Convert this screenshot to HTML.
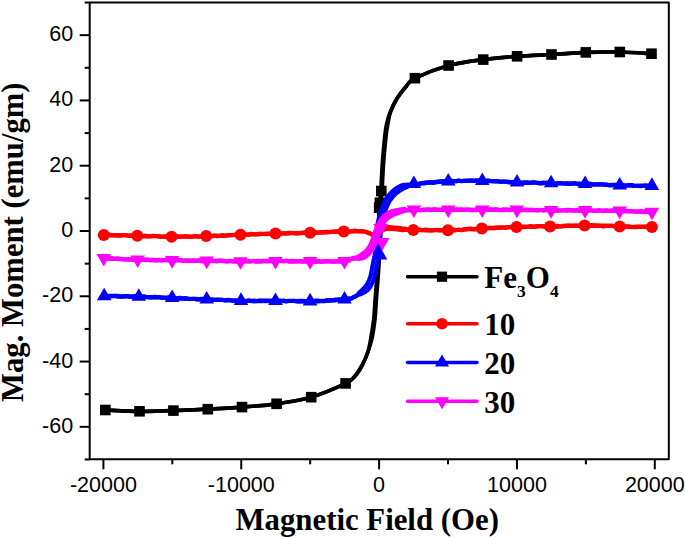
<!DOCTYPE html>
<html><head><meta charset="utf-8"><style>
html,body{margin:0;padding:0;background:#fff;overflow:hidden;width:685px;height:538px;}
svg{display:block;}
.tk{font-family:"Liberation Sans",sans-serif;font-size:21.5px;fill:#000;}
.ttl{font-family:"Liberation Serif",serif;font-weight:bold;font-size:31px;fill:#000;}
.lg{font-family:"Liberation Serif",serif;font-weight:bold;font-size:31px;fill:#000;}
.sub{font-size:17.5px;}
</style></head><body>
<svg width="685" height="538" viewBox="0 0 685 538">
<rect width="685" height="538" fill="#fff"/>
<path d="M105.3,410.0 C111.0,410.2 128.2,411.2 139.5,411.3 C150.8,411.4 162.0,411.0 173.4,410.6 C184.8,410.2 196.4,409.8 207.8,409.2 C219.2,408.6 230.5,408.0 242.0,407.1 C253.5,406.2 265.1,405.5 276.6,403.8 C288.1,402.1 299.7,400.6 311.2,397.2 C322.7,393.8 338.3,386.9 345.6,383.4 C352.9,379.9 352.1,379.3 354.9,376.2 C357.7,373.1 360.1,369.0 362.3,365.0 C364.5,361.0 366.4,356.7 367.9,352.0 C369.4,347.3 370.0,342.7 371.0,337.1 C372.0,331.5 373.1,324.7 373.8,318.5 C374.5,312.3 374.6,306.4 375.1,300.0 C375.6,293.5 376.2,286.6 376.7,280.0 C377.2,273.3 377.7,266.6 378.0,260.0 C378.3,253.3 378.5,246.3 378.6,240.0 C378.7,233.7 378.7,227.0 378.8,222.0 C378.9,217.0 378.8,213.6 379.0,210.0 C379.2,206.3 379.5,203.4 379.8,199.9 C380.1,196.4 380.5,195.0 380.9,189.0 C381.3,183.0 381.7,172.5 382.3,164.0 C382.9,155.5 383.9,144.6 384.6,137.9 C385.3,131.3 385.6,128.4 386.6,123.9 C387.6,119.4 389.0,115.2 390.7,111.0 C392.4,106.7 394.4,102.7 397.0,98.5 C399.6,94.3 403.5,89.4 406.5,86.0 C409.5,82.6 407.9,81.6 414.9,78.2 C421.9,74.8 437.2,68.6 448.6,65.5 C460.0,62.4 471.8,61.1 483.2,59.6 C494.6,58.1 505.7,57.1 517.1,56.3 C528.5,55.4 540.0,55.1 551.5,54.5 C563.0,53.9 574.4,52.8 585.8,52.4 C597.2,52.0 608.8,51.8 619.8,52.0 C630.8,52.2 646.2,53.4 651.5,53.7" fill="none" stroke="#000" stroke-width="3.7" stroke-linejoin="round" stroke-linecap="round"/>
<path d="M105.3,410.0 C111.0,410.2 128.2,411.2 139.5,411.3 C150.8,411.4 162.0,411.0 173.4,410.6 C184.8,410.2 196.4,409.8 207.8,409.2 C219.2,408.6 230.5,408.0 242.0,407.1 C253.5,406.2 265.1,405.5 276.6,403.8 C288.1,402.1 299.7,400.6 311.2,397.2 C322.7,393.8 338.3,386.9 345.6,383.4 C352.9,379.9 352.1,379.3 354.9,376.2 C357.7,373.1 360.1,369.0 362.3,365.0 C364.5,361.0 366.3,356.6 367.9,352.0 C369.5,347.4 371.0,342.9 372.2,337.3 C373.4,331.8 374.3,324.9 375.0,318.7 C375.7,312.5 375.8,306.5 376.3,300.0 C376.8,293.6 377.4,286.7 377.9,280.0 C378.4,273.4 378.9,266.7 379.2,260.0 C379.5,253.4 379.7,246.3 379.8,240.0 C379.9,233.7 379.9,227.0 380.0,222.0 C380.1,217.0 380.0,213.7 380.2,210.0 C380.4,206.4 380.7,203.6 381.0,200.1 C381.3,196.6 381.7,195.0 382.1,189.0 C382.5,183.0 382.9,172.5 383.5,164.0 C384.1,155.5 385.1,144.7 385.8,138.1 C386.5,131.4 386.9,128.6 387.8,124.1 C388.6,119.6 389.4,115.3 390.9,111.0 C392.5,106.8 394.4,102.7 397.0,98.5 C399.6,94.3 403.5,89.4 406.5,86.0 C409.5,82.6 407.9,81.6 414.9,78.2 C421.9,74.8 437.2,68.6 448.6,65.5 C460.0,62.4 471.8,61.1 483.2,59.6 C494.6,58.1 505.7,57.1 517.1,56.3 C528.5,55.4 540.0,55.1 551.5,54.5 C563.0,53.9 574.4,52.8 585.8,52.4 C597.2,52.0 608.8,51.8 619.8,52.0 C630.8,52.2 646.2,53.4 651.5,53.7" fill="none" stroke="#000" stroke-width="3.7" stroke-linejoin="round" stroke-linecap="round"/>
<rect x="100.0" y="404.7" width="10.6" height="10.6" fill="#000"/>
<rect x="134.2" y="406.0" width="10.6" height="10.6" fill="#000"/>
<rect x="168.1" y="405.3" width="10.6" height="10.6" fill="#000"/>
<rect x="202.5" y="403.9" width="10.6" height="10.6" fill="#000"/>
<rect x="236.7" y="401.8" width="10.6" height="10.6" fill="#000"/>
<rect x="271.3" y="398.5" width="10.6" height="10.6" fill="#000"/>
<rect x="305.9" y="391.9" width="10.6" height="10.6" fill="#000"/>
<rect x="340.3" y="378.1" width="10.6" height="10.6" fill="#000"/>
<rect x="373.9" y="202.4" width="10.6" height="10.6" fill="#000"/>
<rect x="374.6" y="197.5" width="10.6" height="10.6" fill="#000"/>
<rect x="376.0" y="185.7" width="10.6" height="10.6" fill="#000"/>
<rect x="409.6" y="72.9" width="10.6" height="10.6" fill="#000"/>
<rect x="443.3" y="60.2" width="10.6" height="10.6" fill="#000"/>
<rect x="477.9" y="54.3" width="10.6" height="10.6" fill="#000"/>
<rect x="511.8" y="51.0" width="10.6" height="10.6" fill="#000"/>
<rect x="546.2" y="49.2" width="10.6" height="10.6" fill="#000"/>
<rect x="580.5" y="47.1" width="10.6" height="10.6" fill="#000"/>
<rect x="614.5" y="46.7" width="10.6" height="10.6" fill="#000"/>
<rect x="646.2" y="48.4" width="10.6" height="10.6" fill="#000"/>
<path d="M103.8,234.7 L105.3,235.3 L107.1,235.3 L109.2,234.9 L111.6,235.1 L114.2,235.2 L117.0,235.4 L119.9,235.6 L122.8,235.0 L125.8,235.0 L128.8,235.8 L131.8,235.5 L134.6,235.9 L137.3,235.3 L139.9,235.7 L142.5,236.1 L145.2,235.7 L147.8,236.5 L150.4,236.5 L153.1,235.9 L155.7,236.0 L158.3,236.5 L161.0,237.0 L163.6,236.6 L166.3,236.5 L168.9,236.7 L171.6,236.4 L174.3,236.6 L176.9,236.7 L179.6,236.8 L182.2,236.5 L184.9,236.5 L187.6,236.4 L190.2,236.5 L192.9,236.3 L195.6,236.0 L198.2,236.7 L200.9,236.3 L203.5,236.3 L206.2,235.8 L208.8,236.5 L211.5,236.2 L214.1,235.5 L216.8,235.6 L219.4,235.8 L222.0,235.7 L224.6,235.8 L227.3,235.2 L229.9,235.4 L232.5,235.2 L235.2,234.7 L237.8,234.9 L240.5,235.0 L243.0,234.9 L245.5,234.5 L248.0,234.5 L250.5,233.9 L253.0,234.0 L255.5,234.5 L258.0,234.0 L260.5,233.7 L263.0,234.0 L265.5,234.1 L268.0,234.0 L270.5,233.6 L273.0,233.6 L275.5,233.6 L278.2,233.8 L280.9,233.5 L283.5,233.3 L286.2,233.3 L288.9,232.8 L291.5,232.8 L294.2,233.3 L296.9,233.5 L299.5,233.1 L302.2,232.8 L304.8,232.6 L307.5,232.8 L310.1,233.1 L312.8,232.9 L315.5,232.5 L318.3,232.7 L321.2,232.1 L324.0,232.2 L326.9,232.5 L329.6,232.0 L332.3,231.8 L334.9,231.5 L337.4,231.7 L339.7,232.0 L341.9,231.0 L343.8,231.7 L347.9,231.5 L351.0,231.5 L353.4,231.2 L355.5,231.3 L357.6,231.0 L361.0,231.2 L363.8,231.5 L366.4,232.0 L370.0,233.5 L373.0,234.7 L376.7,234.4 L378.5,232.3 L380.5,229.9 L383.2,228.2 L386.5,227.2 L389.2,227.1 L392.1,227.3 L395.1,227.6 L397.7,227.9 L400.3,228.2 L403.1,228.5 L404.9,228.5 L406.5,229.6 L409.0,229.7 L413.3,229.6 L415.2,230.0 L417.3,230.0 L419.6,230.0 L422.2,230.0 L424.9,230.3 L427.7,230.4 L430.6,230.4 L433.5,230.3 L436.5,229.9 L439.5,230.1 L442.4,230.1 L445.2,230.4 L447.9,230.6 L450.5,230.5 L453.1,230.4 L455.8,230.3 L458.4,229.7 L461.0,230.1 L463.5,229.8 L466.1,229.1 L468.7,228.9 L471.3,228.7 L473.9,229.3 L476.5,228.7 L479.2,228.4 L481.8,228.7 L484.4,228.3 L487.1,228.0 L489.8,227.9 L492.5,228.1 L495.1,227.6 L497.8,227.6 L500.5,227.9 L503.2,227.5 L505.9,227.3 L508.6,227.3 L511.2,226.8 L513.9,227.0 L516.5,226.9 L519.1,226.6 L521.7,226.5 L524.3,227.2 L526.9,226.8 L529.4,226.4 L532.0,226.8 L534.5,226.9 L537.1,226.2 L539.7,226.1 L542.2,226.2 L544.8,226.7 L547.4,226.1 L550.0,226.6 L552.6,226.5 L555.3,226.3 L557.9,225.9 L560.5,226.5 L563.2,226.3 L565.9,225.9 L568.5,225.6 L571.2,225.9 L573.9,225.6 L576.6,225.7 L579.2,225.4 L581.9,225.6 L584.6,225.1 L587.1,225.3 L589.6,226.0 L592.1,225.9 L594.7,225.5 L597.2,226.0 L599.8,225.6 L602.3,226.3 L604.8,226.2 L607.4,226.0 L609.9,225.9 L612.4,225.8 L614.8,226.6 L617.3,225.9 L619.7,226.7 L622.6,226.9 L625.6,226.6 L628.7,226.3 L631.8,227.0 L635.0,227.1 L638.0,226.9 L640.9,226.8 L643.7,226.7 L646.2,226.8 L648.4,226.7 L650.4,227.1 L651.9,226.9" fill="none" stroke="#f00" stroke-width="4.2" stroke-linejoin="round" stroke-linecap="round"/>
<path d="M103.8,235.4 L105.3,235.4 L107.1,234.7 L109.2,234.7 L111.6,235.5 L114.2,235.4 L117.0,235.4 L119.9,235.1 L122.8,235.5 L125.8,235.5 L128.8,235.6 L131.8,235.3 L134.6,235.6 L137.3,235.6 L139.9,236.0 L142.5,236.3 L145.2,236.4 L147.8,236.1 L150.4,236.1 L153.1,236.1 L155.7,236.0 L158.3,236.1 L161.0,236.5 L163.6,236.5 L166.3,236.6 L168.9,237.1 L171.6,236.8 L174.3,236.9 L176.9,236.6 L179.6,236.3 L182.2,236.6 L184.9,236.4 L187.6,236.6 L190.2,237.0 L192.9,236.7 L195.6,236.1 L198.2,236.7 L200.9,236.5 L203.5,236.4 L206.2,236.5 L208.8,236.3 L211.5,236.2 L214.1,235.7 L216.8,236.1 L219.4,236.0 L222.0,235.2 L224.6,235.6 L227.3,235.4 L229.9,235.1 L232.5,235.0 L235.2,234.9 L237.8,235.2 L240.5,234.7 L243.0,234.9 L245.5,234.4 L248.0,234.8 L250.5,234.7 L253.0,234.2 L255.5,234.3 L258.0,234.5 L260.5,234.2 L263.0,234.0 L265.5,233.6 L268.0,233.7 L270.5,233.9 L273.0,233.4 L275.5,234.0 L278.2,233.3 L280.9,233.8 L283.5,233.2 L286.2,233.7 L288.9,233.4 L291.5,233.2 L294.2,233.1 L296.9,233.2 L299.5,233.1 L302.2,232.8 L304.8,232.6 L307.5,232.8 L310.1,233.1 L312.8,232.7 L315.5,232.1 L318.3,232.7 L321.2,232.5 L324.0,232.6 L326.9,231.8 L329.6,232.2 L332.3,231.5 L334.9,231.9 L337.4,231.4 L339.7,231.3 L341.9,231.8 L343.8,231.0 L347.9,231.3 L351.0,231.4 L353.4,230.8 L355.5,230.7 L357.6,231.3 L361.0,231.2 L363.8,231.5 L366.4,232.0 L370.0,233.6 L373.0,235.1 L377.3,235.6 L379.3,233.5 L381.5,231.1 L383.8,229.7 L386.7,228.8 L389.2,228.7 L392.1,228.9 L394.9,229.2 L397.5,229.5 L400.1,229.8 L402.9,230.3 L404.8,229.7 L406.5,229.9 L408.9,229.6 L413.3,230.1 L415.2,229.5 L417.3,230.4 L419.6,229.6 L422.2,230.3 L424.9,229.7 L427.7,229.9 L430.6,230.5 L433.5,230.0 L436.5,230.0 L439.5,230.5 L442.4,230.2 L445.2,229.9 L447.9,230.7 L450.5,229.9 L453.1,229.7 L455.8,229.9 L458.4,230.0 L461.0,230.0 L463.5,229.3 L466.1,229.4 L468.7,228.9 L471.3,229.1 L473.9,229.3 L476.5,229.1 L479.2,229.1 L481.8,228.8 L484.4,228.8 L487.1,228.5 L489.8,228.2 L492.5,227.8 L495.1,228.1 L497.8,227.6 L500.5,227.3 L503.2,227.5 L505.9,227.8 L508.6,227.0 L511.2,227.3 L513.9,227.0 L516.5,227.0 L519.1,226.6 L521.7,227.3 L524.3,226.6 L526.9,226.8 L529.4,226.6 L532.0,226.2 L534.5,226.7 L537.1,226.3 L539.7,226.2 L542.2,226.1 L544.8,226.2 L547.4,226.1 L550.0,226.5 L552.6,226.3 L555.3,226.7 L557.9,226.6 L560.5,226.5 L563.2,225.8 L565.9,225.9 L568.5,225.6 L571.2,225.8 L573.9,225.8 L576.6,225.9 L579.2,225.7 L581.9,225.3 L584.6,225.4 L587.1,225.5 L589.6,225.1 L592.1,225.2 L594.7,225.6 L597.2,225.4 L599.8,226.0 L602.3,225.6 L604.8,225.6 L607.4,225.7 L609.9,225.9 L612.4,225.9 L614.8,226.3 L617.3,226.3 L619.7,226.2 L622.6,226.6 L625.6,226.3 L628.7,227.0 L631.8,227.1 L635.0,226.9 L638.0,226.7 L640.9,226.8 L643.7,226.9 L646.2,226.5 L648.4,226.9 L650.4,227.0 L651.9,226.7" fill="none" stroke="#f00" stroke-width="4.2" stroke-linejoin="round" stroke-linecap="round"/>
<circle cx="103.8" cy="235.0" r="6.0" fill="#f00"/>
<circle cx="137.3" cy="235.7" r="6.0" fill="#f00"/>
<circle cx="171.6" cy="236.8" r="6.0" fill="#f00"/>
<circle cx="206.2" cy="236.1" r="6.0" fill="#f00"/>
<circle cx="240.5" cy="234.7" r="6.0" fill="#f00"/>
<circle cx="275.5" cy="233.6" r="6.0" fill="#f00"/>
<circle cx="310.1" cy="232.7" r="6.0" fill="#f00"/>
<circle cx="343.8" cy="231.4" r="6.0" fill="#f00"/>
<circle cx="413.3" cy="229.9" r="6.0" fill="#f00"/>
<circle cx="447.9" cy="230.3" r="6.0" fill="#f00"/>
<circle cx="481.8" cy="228.6" r="6.0" fill="#f00"/>
<circle cx="516.5" cy="227.0" r="6.0" fill="#f00"/>
<circle cx="550.0" cy="226.4" r="6.0" fill="#f00"/>
<circle cx="584.6" cy="225.5" r="6.0" fill="#f00"/>
<circle cx="619.7" cy="226.4" r="6.0" fill="#f00"/>
<circle cx="651.9" cy="227.0" r="6.0" fill="#f00"/>
<path d="M104.2,295.9 L105.7,296.2 L107.6,296.0 L109.8,296.3 L112.3,296.3 L115.0,295.8 L117.9,295.8 L120.9,296.6 L124.0,296.1 L127.1,296.1 L130.2,296.9 L133.2,296.4 L136.1,296.8 L138.8,296.6 L141.4,296.8 L144.0,296.4 L146.5,297.0 L149.1,297.3 L151.6,297.1 L154.2,297.4 L156.7,297.4 L159.3,297.0 L161.8,297.7 L164.4,297.7 L166.9,297.5 L169.5,297.4 L172.1,298.2 L174.7,298.0 L177.4,298.3 L180.0,298.6 L182.7,298.5 L185.3,298.9 L188.0,298.5 L190.7,299.0 L193.4,298.8 L196.0,299.3 L198.7,299.4 L201.4,298.8 L204.0,299.0 L206.7,299.1 L209.3,299.9 L212.0,299.6 L214.6,299.9 L217.3,299.7 L219.9,300.0 L222.5,300.0 L225.2,300.1 L227.8,300.4 L230.4,300.5 L233.1,300.8 L235.7,300.7 L238.4,301.0 L241.0,301.0 L243.6,301.2 L246.3,300.9 L248.9,300.5 L251.6,301.2 L254.3,301.3 L256.9,301.2 L259.6,300.9 L262.2,301.1 L264.9,300.6 L267.5,301.2 L270.2,300.9 L272.8,300.7 L275.5,300.5 L278.2,301.2 L280.8,301.4 L283.5,300.6 L286.1,301.3 L288.8,301.0 L291.5,300.8 L294.1,301.0 L296.8,301.5 L299.5,301.6 L302.1,300.9 L304.8,301.4 L307.4,300.8 L310.1,301.4 L312.8,301.0 L315.7,301.4 L318.6,301.4 L321.5,300.8 L324.5,301.1 L327.5,300.3 L330.4,300.0 L333.1,300.3 L335.8,299.6 L338.3,299.6 L340.6,299.6 L342.7,299.6 L344.5,299.1 L349.4,298.5 L351.4,298.7 L353.2,297.3 L355.4,296.5 L357.4,294.8 L359.3,292.6 L362.1,290.1 L364.6,287.6 L366.3,285.4 L367.7,283.1 L369.1,280.0 L370.4,276.4 L371.0,273.9 L371.5,271.3 L372.0,268.6 L372.5,266.0 L373.0,263.3 L373.5,260.6 L374.1,258.0 L374.6,255.3 L375.0,252.7 L375.4,250.1 L375.7,247.6 L376.0,244.8 L376.2,241.7 L376.3,238.3 L376.5,234.9 L376.7,232.3 L376.9,229.7 L377.2,227.2 L377.5,224.7 L378.1,221.5 L378.8,218.5 L379.6,215.5 L380.5,212.3 L381.6,209.2 L382.8,206.2 L384.0,203.3 L385.3,200.5 L386.8,197.9 L388.5,195.6 L390.4,193.4 L392.2,191.6 L394.7,189.4 L397.1,187.6 L399.7,186.3 L402.2,185.3 L404.6,184.8 L407.3,184.7 L408.7,184.6 L413.9,184.2 L415.6,184.1 L417.7,184.2 L419.9,183.6 L422.4,183.3 L425.1,183.3 L427.9,182.6 L430.9,182.4 L433.8,182.8 L436.8,182.1 L439.8,181.9 L442.8,181.2 L445.6,181.4 L448.3,181.4 L450.9,180.8 L453.5,181.2 L456.2,181.1 L458.8,180.5 L461.4,181.0 L464.0,180.8 L466.6,181.0 L469.2,180.7 L471.8,181.0 L474.4,181.0 L477.0,180.4 L479.7,180.5 L482.3,181.1 L484.9,181.4 L487.6,180.8 L490.3,181.1 L492.9,181.3 L495.6,181.2 L498.3,181.4 L501.0,181.5 L503.7,181.7 L506.3,182.0 L509.0,181.9 L511.7,182.1 L514.3,182.6 L517.0,182.0 L519.6,182.5 L522.3,182.8 L524.9,182.4 L527.5,182.4 L530.2,183.0 L532.8,182.5 L535.4,182.5 L538.0,182.8 L540.6,183.1 L543.2,182.6 L545.9,182.8 L548.5,182.9 L551.1,183.4 L553.7,183.1 L556.3,183.5 L558.9,183.0 L561.5,183.2 L564.2,183.5 L566.8,183.8 L569.4,183.4 L572.0,183.3 L574.6,183.3 L577.2,183.7 L579.8,183.5 L582.5,184.1 L585.1,184.2 L587.7,183.7 L590.4,183.9 L593.1,184.5 L595.8,184.4 L598.5,184.7 L601.2,184.4 L603.9,184.4 L606.5,184.6 L609.2,185.2 L611.9,184.8 L614.5,185.0 L617.1,185.1 L619.7,185.2 L622.6,185.3 L625.6,185.8 L628.7,185.2 L631.8,185.1 L634.9,186.0 L638.0,185.9 L640.9,186.1 L643.6,185.6 L646.2,186.1 L648.4,186.1 L650.4,185.4 L651.9,185.9" fill="none" stroke="#00f" stroke-width="4.2" stroke-linejoin="round" stroke-linecap="round"/>
<path d="M104.2,295.9 L105.7,295.8 L107.6,296.0 L109.8,295.9 L112.3,295.8 L115.0,296.1 L117.9,296.6 L120.9,296.6 L124.0,296.6 L127.1,296.1 L130.2,296.5 L133.2,296.3 L136.1,296.2 L138.8,296.2 L141.4,296.4 L144.0,297.1 L146.5,297.1 L149.1,297.2 L151.6,297.3 L154.2,296.9 L156.7,297.1 L159.3,297.5 L161.8,297.7 L164.4,297.9 L166.9,298.0 L169.5,297.4 L172.1,298.0 L174.7,298.2 L177.4,298.1 L180.0,297.9 L182.7,298.3 L185.3,298.1 L188.0,299.0 L190.7,299.0 L193.4,298.9 L196.0,298.8 L198.7,299.4 L201.4,299.2 L204.0,299.6 L206.7,299.7 L209.3,299.5 L212.0,299.5 L214.6,299.8 L217.3,299.8 L219.9,299.7 L222.5,299.9 L225.2,300.5 L227.8,299.9 L230.4,300.0 L233.1,300.6 L235.7,300.4 L238.4,300.7 L241.0,300.7 L243.6,300.6 L246.3,301.2 L248.9,300.5 L251.6,300.8 L254.3,300.6 L256.9,301.0 L259.6,300.7 L262.2,300.7 L264.9,301.1 L267.5,300.7 L270.2,300.9 L272.8,301.2 L275.5,300.5 L278.2,300.5 L280.8,300.7 L283.5,301.2 L286.1,301.2 L288.8,300.9 L291.5,301.0 L294.1,300.9 L296.8,301.2 L299.5,300.8 L302.1,301.4 L304.8,301.6 L307.4,301.7 L310.1,301.4 L312.8,301.5 L315.7,300.6 L318.6,300.7 L321.5,301.2 L324.5,300.9 L327.5,300.4 L330.4,300.8 L333.1,300.3 L335.8,300.3 L338.3,299.7 L340.6,299.4 L342.7,299.5 L344.5,299.1 L349.4,298.7 L351.4,298.7 L353.2,297.3 L355.7,296.1 L358.0,295.0 L360.3,294.3 L362.8,293.1 L365.3,291.9 L367.4,290.4 L369.6,287.9 L371.3,284.9 L372.4,282.6 L373.4,280.2 L374.2,277.6 L374.9,274.9 L375.4,272.1 L376.0,269.4 L376.5,266.7 L377.0,264.0 L377.5,261.4 L378.0,258.7 L378.5,256.0 L379.0,253.3 L379.4,250.7 L379.7,248.0 L380.0,245.2 L380.1,242.8 L380.2,240.3 L380.3,237.7 L380.5,235.1 L380.8,231.8 L381.1,228.5 L381.5,225.3 L382.0,222.3 L382.7,219.4 L383.4,216.5 L384.3,213.6 L385.3,210.6 L386.4,207.8 L387.6,205.0 L388.8,202.5 L390.2,200.1 L392.6,197.0 L395.0,194.4 L397.2,192.5 L399.3,191.0 L403.6,188.4 L407.7,186.7 L408.9,185.3 L413.9,184.0 L415.6,183.7 L417.6,184.2 L419.9,183.5 L422.4,183.0 L425.1,182.6 L427.9,182.4 L430.8,182.2 L433.8,182.4 L436.8,181.7 L439.8,181.4 L442.7,181.6 L445.6,181.2 L448.3,181.7 L450.9,180.8 L453.5,181.1 L456.2,181.2 L458.8,180.8 L461.4,181.3 L464.0,180.8 L466.6,180.6 L469.2,180.7 L471.8,180.4 L474.4,180.7 L477.0,180.6 L479.7,181.2 L482.3,181.2 L484.9,181.0 L487.6,180.6 L490.3,180.9 L492.9,181.0 L495.6,181.1 L498.3,181.3 L501.0,182.0 L503.7,181.5 L506.3,181.5 L509.0,182.5 L511.7,182.3 L514.3,182.7 L517.0,182.3 L519.6,182.8 L522.3,182.7 L524.9,182.9 L527.5,182.9 L530.2,182.7 L532.8,182.4 L535.4,182.6 L538.0,183.2 L540.6,183.3 L543.2,183.3 L545.9,182.8 L548.5,183.2 L551.1,183.4 L553.7,183.3 L556.3,183.5 L558.9,183.3 L561.5,183.5 L564.2,183.5 L566.8,183.2 L569.4,183.9 L572.0,184.0 L574.6,183.2 L577.2,184.1 L579.8,184.2 L582.5,184.0 L585.1,183.5 L587.7,184.3 L590.4,183.8 L593.1,184.6 L595.8,184.5 L598.5,184.0 L601.2,184.3 L603.9,184.8 L606.5,184.9 L609.2,185.1 L611.9,185.4 L614.5,184.9 L617.1,184.8 L619.7,185.7 L622.6,184.9 L625.6,185.8 L628.7,185.1 L631.8,185.8 L634.9,185.8 L638.0,185.9 L640.9,185.7 L643.6,186.0 L646.2,185.4 L648.4,185.8 L650.4,185.5 L651.9,186.1" fill="none" stroke="#00f" stroke-width="4.2" stroke-linejoin="round" stroke-linecap="round"/>
<path d="M104.2,287.7 L111.5,300.3 L96.9,300.3Z" fill="#00f"/>
<path d="M138.8,288.2 L146.1,300.8 L131.5,300.8Z" fill="#00f"/>
<path d="M172.1,289.5 L179.4,302.1 L164.8,302.1Z" fill="#00f"/>
<path d="M206.7,291.0 L214.0,303.6 L199.4,303.6Z" fill="#00f"/>
<path d="M241.0,292.3 L248.3,304.9 L233.7,304.9Z" fill="#00f"/>
<path d="M275.5,292.5 L282.8,305.1 L268.2,305.1Z" fill="#00f"/>
<path d="M310.1,292.8 L317.4,305.4 L302.8,305.4Z" fill="#00f"/>
<path d="M344.5,291.0 L351.8,303.6 L337.2,303.6Z" fill="#00f"/>
<path d="M380.0,246.8 L387.3,259.4 L372.7,259.4Z" fill="#00f"/>
<path d="M413.9,175.5 L421.2,188.1 L406.6,188.1Z" fill="#00f"/>
<path d="M448.3,172.9 L455.6,185.5 L441.0,185.5Z" fill="#00f"/>
<path d="M482.3,172.5 L489.6,185.1 L475.0,185.1Z" fill="#00f"/>
<path d="M517.0,174.0 L524.3,186.6 L509.7,186.6Z" fill="#00f"/>
<path d="M551.1,174.7 L558.4,187.3 L543.8,187.3Z" fill="#00f"/>
<path d="M585.1,175.5 L592.4,188.1 L577.8,188.1Z" fill="#00f"/>
<path d="M619.7,176.9 L627.0,189.5 L612.4,189.5Z" fill="#00f"/>
<path d="M651.9,177.3 L659.2,189.9 L644.6,189.9Z" fill="#00f"/>
<path d="M103.8,258.2 L105.3,258.4 L107.1,258.5 L109.3,258.8 L111.7,258.7 L114.3,259.0 L117.1,258.4 L120.1,258.9 L123.1,259.5 L126.1,259.4 L129.1,259.7 L132.1,259.1 L135.0,259.6 L137.7,259.5 L140.3,259.8 L143.0,259.9 L145.6,259.5 L148.2,259.7 L150.9,259.8 L153.5,260.4 L156.2,260.3 L158.8,259.8 L161.5,260.4 L164.1,259.9 L166.8,260.3 L169.4,259.9 L172.1,259.9 L174.8,260.7 L177.4,260.1 L180.1,260.2 L182.8,260.9 L185.4,260.8 L188.1,260.3 L190.8,261.0 L193.4,260.6 L196.1,260.8 L198.8,260.4 L201.4,261.1 L204.1,260.9 L206.7,261.2 L209.3,261.2 L211.9,260.7 L214.5,260.8 L217.1,260.7 L219.7,260.7 L222.3,260.7 L224.9,261.0 L227.4,261.3 L230.0,260.8 L232.6,261.5 L235.2,261.2 L237.9,261.2 L240.5,261.7 L243.0,261.4 L245.4,261.2 L247.9,261.4 L250.4,261.5 L252.9,260.9 L255.4,261.7 L257.9,260.8 L260.5,261.5 L263.0,261.5 L265.5,260.7 L268.0,261.4 L270.5,261.0 L273.0,261.2 L275.5,260.7 L278.2,260.7 L280.8,260.8 L283.5,261.5 L286.2,260.9 L288.8,261.4 L291.5,261.6 L294.2,261.6 L296.8,261.1 L299.5,261.1 L302.1,261.3 L304.8,261.5 L307.4,260.9 L310.1,261.5 L312.8,261.6 L315.7,261.6 L318.6,260.9 L321.6,261.8 L324.6,261.0 L327.6,261.2 L330.5,261.5 L333.3,261.8 L336.0,261.2 L338.5,261.7 L340.7,261.4 L342.8,261.1 L344.5,261.0 L349.5,260.0 L351.0,258.8 L354.0,257.8 L356.8,257.2 L359.1,256.3 L361.2,254.6 L364.7,252.3 L367.9,248.8 L369.4,246.6 L370.7,244.1 L371.9,241.3 L372.9,238.3 L373.9,235.4 L374.9,232.3 L376.0,229.2 L377.2,226.2 L378.6,223.4 L380.1,220.9 L381.7,218.5 L383.7,216.3 L385.4,214.8 L387.6,213.3 L390.2,212.0 L392.7,211.1 L395.6,210.4 L398.7,209.9 L401.7,209.2 L404.2,209.0 L406.4,210.0 L409.3,209.8 L413.9,209.8 L415.8,209.7 L418.0,210.0 L420.3,210.2 L422.9,209.8 L425.5,209.8 L428.3,209.4 L431.2,210.2 L434.1,209.4 L437.0,209.8 L439.9,210.0 L442.8,209.4 L445.6,209.9 L448.3,210.1 L450.9,209.8 L453.5,209.9 L456.2,209.3 L458.8,209.6 L461.4,209.4 L464.0,210.0 L466.6,209.5 L469.2,209.6 L471.8,210.1 L474.4,210.0 L477.0,210.1 L479.7,209.7 L482.3,209.7 L484.9,209.9 L487.6,209.7 L490.3,209.5 L492.9,209.6 L495.6,209.4 L498.3,209.6 L500.9,210.2 L503.6,210.1 L506.3,209.9 L508.9,209.7 L511.6,209.6 L514.2,209.4 L516.9,209.6 L519.5,210.1 L522.2,210.2 L524.8,209.8 L527.5,210.2 L530.1,210.2 L532.7,210.2 L535.4,210.2 L538.0,210.4 L540.6,210.0 L543.2,210.4 L545.9,210.0 L548.5,210.3 L551.1,210.5 L553.7,210.5 L556.3,210.1 L558.9,210.7 L561.6,210.5 L564.2,210.4 L566.8,209.9 L569.4,210.3 L572.0,210.1 L574.6,210.4 L577.2,210.2 L579.8,210.6 L582.5,210.4 L585.1,210.6 L587.7,210.2 L590.4,210.5 L593.1,210.6 L595.8,210.7 L598.5,210.3 L601.2,210.8 L603.9,210.8 L606.5,210.7 L609.2,211.0 L611.9,211.0 L614.5,210.7 L617.1,210.8 L619.7,210.5 L622.6,211.2 L625.6,211.4 L628.7,211.0 L631.8,211.3 L634.9,211.5 L638.0,211.6 L640.9,211.2 L643.6,211.8 L646.2,211.8 L648.4,211.9 L650.4,211.8 L651.9,212.0" fill="none" stroke="#f0f" stroke-width="4.2" stroke-linejoin="round" stroke-linecap="round"/>
<path d="M103.8,258.4 L105.3,258.5 L107.1,258.3 L109.3,258.2 L111.7,258.1 L114.3,258.8 L117.1,258.8 L120.1,259.2 L123.1,259.0 L126.1,259.5 L129.1,259.2 L132.1,259.8 L135.0,259.8 L137.7,259.6 L140.3,259.8 L143.0,260.0 L145.6,259.6 L148.2,260.0 L150.9,260.3 L153.5,259.8 L156.2,260.4 L158.8,260.3 L161.5,260.5 L164.1,260.0 L166.8,259.9 L169.4,260.5 L172.1,260.6 L174.8,260.3 L177.4,260.0 L180.1,260.1 L182.8,260.6 L185.4,260.3 L188.1,260.9 L190.8,260.6 L193.4,260.3 L196.1,260.8 L198.8,260.6 L201.4,261.1 L204.1,261.1 L206.7,260.8 L209.3,261.0 L211.9,261.1 L214.5,261.2 L217.1,261.4 L219.7,260.6 L222.3,261.0 L224.9,261.3 L227.4,261.1 L230.0,261.4 L232.6,261.0 L235.2,261.7 L237.9,261.4 L240.5,261.1 L243.0,261.6 L245.4,261.2 L247.9,261.1 L250.4,261.4 L252.9,261.0 L255.4,261.0 L257.9,261.6 L260.5,261.4 L263.0,260.8 L265.5,261.4 L268.0,260.7 L270.5,261.0 L273.0,261.5 L275.5,261.2 L278.2,260.9 L280.8,261.0 L283.5,261.0 L286.2,260.8 L288.8,261.6 L291.5,260.8 L294.2,261.1 L296.8,261.4 L299.5,261.2 L302.1,261.7 L304.8,261.1 L307.4,261.7 L310.1,261.7 L312.8,261.5 L315.7,261.7 L318.6,261.3 L321.6,261.7 L324.6,261.6 L327.6,261.4 L330.5,261.4 L333.3,261.6 L336.0,261.3 L338.5,261.0 L340.7,261.5 L342.8,261.1 L344.5,261.2 L349.5,260.5 L351.0,258.9 L354.2,258.6 L357.2,258.6 L360.2,258.8 L362.8,258.2 L365.2,257.0 L367.3,255.3 L369.3,253.4 L371.1,251.2 L372.8,248.7 L374.3,245.9 L375.6,242.8 L376.7,239.7 L377.7,236.6 L378.7,233.7 L379.7,230.7 L380.8,227.8 L382.1,225.3 L383.5,223.1 L386.3,219.3 L388.6,217.5 L391.8,215.6 L394.0,214.6 L396.5,213.6 L399.3,212.5 L402.1,211.8 L404.4,210.9 L406.5,210.4 L409.3,210.1 L413.9,210.3 L415.8,209.6 L418.0,209.7 L420.3,210.1 L422.8,209.8 L425.5,209.5 L428.3,209.7 L431.2,209.7 L434.1,209.4 L437.0,209.6 L439.9,209.5 L442.8,210.0 L445.6,209.5 L448.3,209.8 L450.9,210.1 L453.5,210.1 L456.2,209.6 L458.8,209.8 L461.4,209.5 L464.0,209.6 L466.6,209.7 L469.2,209.9 L471.8,210.1 L474.4,209.5 L477.0,209.2 L479.7,209.7 L482.3,209.3 L484.9,209.3 L487.6,210.0 L490.3,209.4 L492.9,209.9 L495.6,209.6 L498.3,210.1 L500.9,210.0 L503.6,209.3 L506.3,209.5 L508.9,210.2 L511.6,209.9 L514.2,209.7 L516.9,210.1 L519.5,210.1 L522.2,209.9 L524.8,209.9 L527.5,209.6 L530.1,209.9 L532.7,209.7 L535.4,210.2 L538.0,210.2 L540.6,209.8 L543.2,210.3 L545.9,209.9 L548.5,209.9 L551.1,210.4 L553.7,210.3 L556.3,210.7 L558.9,210.4 L561.6,210.5 L564.2,210.0 L566.8,210.6 L569.4,209.9 L572.0,210.4 L574.6,210.6 L577.2,210.6 L579.8,210.6 L582.5,210.2 L585.1,210.5 L587.7,210.6 L590.4,210.0 L593.1,210.8 L595.8,210.8 L598.5,210.4 L601.2,210.7 L603.9,210.5 L606.5,210.3 L609.2,210.8 L611.9,210.2 L614.5,211.0 L617.1,211.2 L619.7,210.6 L622.6,211.3 L625.6,210.6 L628.7,211.4 L631.8,211.0 L634.9,211.7 L638.0,211.3 L640.9,211.9 L643.6,211.2 L646.2,211.3 L648.4,212.1 L650.4,212.0 L651.9,211.9" fill="none" stroke="#f0f" stroke-width="4.2" stroke-linejoin="round" stroke-linecap="round"/>
<path d="M96.5,253.9 L111.1,253.9 L103.8,266.5Z" fill="#f0f"/>
<path d="M130.4,255.5 L145.0,255.5 L137.7,268.1Z" fill="#f0f"/>
<path d="M164.8,256.1 L179.4,256.1 L172.1,268.7Z" fill="#f0f"/>
<path d="M199.4,256.6 L214.0,256.6 L206.7,269.2Z" fill="#f0f"/>
<path d="M233.2,257.2 L247.8,257.2 L240.5,269.8Z" fill="#f0f"/>
<path d="M268.2,256.9 L282.8,256.9 L275.5,269.5Z" fill="#f0f"/>
<path d="M302.8,257.1 L317.4,257.1 L310.1,269.7Z" fill="#f0f"/>
<path d="M337.2,257.0 L351.8,257.0 L344.5,269.6Z" fill="#f0f"/>
<path d="M373.2,224.0 L387.8,224.0 L380.5,236.6Z" fill="#f0f"/>
<path d="M374.9,238.0 L389.5,238.0 L382.2,250.6Z" fill="#f0f"/>
<path d="M406.6,205.5 L421.2,205.5 L413.9,218.1Z" fill="#f0f"/>
<path d="M441.0,205.5 L455.6,205.5 L448.3,218.1Z" fill="#f0f"/>
<path d="M475.0,205.5 L489.6,205.5 L482.3,218.1Z" fill="#f0f"/>
<path d="M509.6,205.6 L524.2,205.6 L516.9,218.2Z" fill="#f0f"/>
<path d="M543.8,206.1 L558.4,206.1 L551.1,218.7Z" fill="#f0f"/>
<path d="M577.8,206.1 L592.4,206.1 L585.1,218.7Z" fill="#f0f"/>
<path d="M612.4,206.6 L627.0,206.6 L619.7,219.2Z" fill="#f0f"/>
<path d="M644.6,207.7 L659.2,207.7 L651.9,220.3Z" fill="#f0f"/>
<rect x="89.7" y="2.4" width="579.0999999999999" height="456.90000000000003" fill="none" stroke="#000" stroke-width="2.0" stroke-linejoin="round"/>
<line x1="84.7" y1="459.48" x2="89.7" y2="459.48" stroke="#000" stroke-width="2.0"/>
<line x1="79.7" y1="426.84" x2="89.7" y2="426.84" stroke="#000" stroke-width="2.0"/>
<text x="73.2" y="432.8" text-anchor="end" class="tk">-60</text>
<line x1="84.7" y1="394.20" x2="89.7" y2="394.20" stroke="#000" stroke-width="2.0"/>
<line x1="79.7" y1="361.56" x2="89.7" y2="361.56" stroke="#000" stroke-width="2.0"/>
<text x="73.2" y="367.6" text-anchor="end" class="tk">-40</text>
<line x1="84.7" y1="328.92" x2="89.7" y2="328.92" stroke="#000" stroke-width="2.0"/>
<line x1="79.7" y1="296.28" x2="89.7" y2="296.28" stroke="#000" stroke-width="2.0"/>
<text x="73.2" y="302.3" text-anchor="end" class="tk">-20</text>
<line x1="84.7" y1="263.64" x2="89.7" y2="263.64" stroke="#000" stroke-width="2.0"/>
<line x1="79.7" y1="231.00" x2="89.7" y2="231.00" stroke="#000" stroke-width="2.0"/>
<text x="73.2" y="237.0" text-anchor="end" class="tk">0</text>
<line x1="84.7" y1="198.36" x2="89.7" y2="198.36" stroke="#000" stroke-width="2.0"/>
<line x1="79.7" y1="165.72" x2="89.7" y2="165.72" stroke="#000" stroke-width="2.0"/>
<text x="73.2" y="171.7" text-anchor="end" class="tk">20</text>
<line x1="84.7" y1="133.08" x2="89.7" y2="133.08" stroke="#000" stroke-width="2.0"/>
<line x1="79.7" y1="100.44" x2="89.7" y2="100.44" stroke="#000" stroke-width="2.0"/>
<text x="73.2" y="106.4" text-anchor="end" class="tk">40</text>
<line x1="84.7" y1="67.80" x2="89.7" y2="67.80" stroke="#000" stroke-width="2.0"/>
<line x1="79.7" y1="35.16" x2="89.7" y2="35.16" stroke="#000" stroke-width="2.0"/>
<text x="73.2" y="41.2" text-anchor="end" class="tk">60</text>
<line x1="84.7" y1="2.52" x2="89.7" y2="2.52" stroke="#000" stroke-width="2.0"/>
<line x1="103.40" y1="459.3" x2="103.40" y2="469.3" stroke="#000" stroke-width="2.0"/>
<text x="103.4" y="492.4" text-anchor="middle" class="tk">-20000</text>
<line x1="172.33" y1="459.3" x2="172.33" y2="464.3" stroke="#000" stroke-width="2.0"/>
<line x1="241.25" y1="459.3" x2="241.25" y2="469.3" stroke="#000" stroke-width="2.0"/>
<text x="241.3" y="492.4" text-anchor="middle" class="tk">-10000</text>
<line x1="310.18" y1="459.3" x2="310.18" y2="464.3" stroke="#000" stroke-width="2.0"/>
<line x1="379.10" y1="459.3" x2="379.10" y2="469.3" stroke="#000" stroke-width="2.0"/>
<text x="379.1" y="492.4" text-anchor="middle" class="tk">0</text>
<line x1="448.03" y1="459.3" x2="448.03" y2="464.3" stroke="#000" stroke-width="2.0"/>
<line x1="516.95" y1="459.3" x2="516.95" y2="469.3" stroke="#000" stroke-width="2.0"/>
<text x="517.0" y="492.4" text-anchor="middle" class="tk">10000</text>
<line x1="585.88" y1="459.3" x2="585.88" y2="464.3" stroke="#000" stroke-width="2.0"/>
<line x1="654.80" y1="459.3" x2="654.80" y2="469.3" stroke="#000" stroke-width="2.0"/>
<text x="654.8" y="492.4" text-anchor="middle" class="tk">20000</text>
<line x1="407.5" y1="276.7" x2="477" y2="276.7" stroke="#000" stroke-width="3.4" stroke-linecap="round"/>
<rect x="436.9" y="271.6" width="10.2" height="10.2" fill="#000"/>
<line x1="407.5" y1="323.7" x2="477" y2="323.7" stroke="#f00" stroke-width="3.4" stroke-linecap="round"/>
<circle cx="442.0" cy="323.7" r="5.8" fill="#f00"/>
<line x1="407.5" y1="362.5" x2="477" y2="362.5" stroke="#00f" stroke-width="3.4" stroke-linecap="round"/>
<path d="M442.0,354.5 L449.0,366.5 L435.0,366.5Z" fill="#00f"/>
<line x1="407.5" y1="401.2" x2="477" y2="401.2" stroke="#f0f" stroke-width="3.4" stroke-linecap="round"/>
<path d="M435.0,397.2 L449.0,397.2 L442.0,409.2Z" fill="#f0f"/>
<text x="484.3" y="287.5" class="lg">Fe<tspan class="sub" dy="9.5">3</tspan><tspan dy="-9.5">O</tspan><tspan class="sub" dy="9.5">4</tspan></text>
<text x="484.3" y="335.0" class="lg">10</text>
<text x="484.3" y="373.5" class="lg">20</text>
<text x="484.3" y="412.8" class="lg">30</text>
<text x="367.2" y="530.2" text-anchor="middle" class="ttl" style="font-size:30.8px">Magnetic Field (Oe)</text>
<text transform="translate(22.8,242.2) rotate(-90)" text-anchor="middle" class="ttl" style="font-size:30.7px">Mag. Moment (emu/gm)</text>
</svg>
</body></html>
